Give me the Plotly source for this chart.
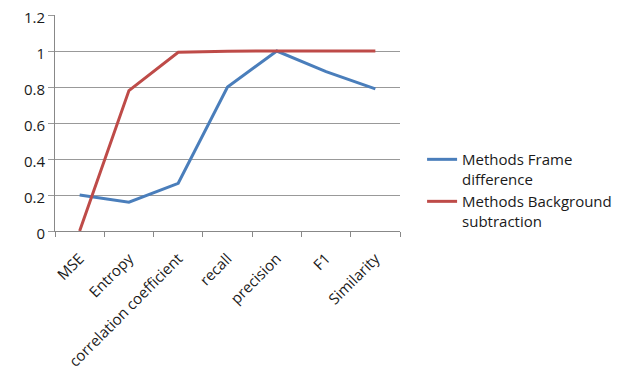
import plotly.graph_objects as go

categories = ["MSE", "Entropy", "correlation coefficient", "recall", "precision", "F1", "Similarity"]
frame_diff = [0.2, 0.16, 0.265, 0.8, 1.0, 0.885, 0.79]
background_sub = [0.0, 0.78, 0.993, 0.999, 1.0, 1.0, 1.0]
series_names = ["Methods Frame<br>difference", "Methods Background<br>subtraction"]
y_ticks = [0, 0.2, 0.4, 0.6, 0.8, 1, 1.2]

font_family = "Open Sans, Liberation Sans, sans-serif"

fig = go.Figure()
fig.add_trace(go.Scatter(x=categories, y=frame_diff, mode="lines", name=series_names[0],
                         line=dict(color="#4A7EBB", width=3)))
fig.add_trace(go.Scatter(x=categories, y=background_sub, mode="lines", name=series_names[1],
                         line=dict(color="#BE4B48", width=3)))

fig.update_layout(
    width=634, height=389,
    margin=dict(l=47, r=242, t=7, b=166, autoexpand=False),
    paper_bgcolor="white", plot_bgcolor="white",
    font=dict(family=font_family, size=15, color="#1a1a1a"),
    legend=dict(x=1.064, y=0.407, xanchor="left", yanchor="top",
                font=dict(size=15, color="#1a1a1a"), tracegroupgap=29,
                itemwidth=30, valign="top"),
    showlegend=True,
)
fig.update_xaxes(type="category", tickangle=-45, showgrid=False, automargin=False,
                 showline=True, linecolor="#888888", linewidth=1,
                 ticks="outside", tickson="boundaries", ticklen=5, tickcolor="#888888",
                 ticklabelstandoff=12,
                 range=[-0.5, 6.5], tickfont=dict(size=15))
fig.update_yaxes(range=[0, 1.2], tickvals=y_ticks, ticktext=[str(v) for v in y_ticks],
                 showgrid=True, gridcolor="#999999", gridwidth=1, automargin=False,
                 showline=True, linecolor="#888888", linewidth=1,
                 ticks="outside", ticklen=6, tickcolor="#999999",
                 ticklabeloverflow="allow", ticklabelshift=3,
                 zeroline=False, tickfont=dict(size=15))

fig.write_html("out.html")
